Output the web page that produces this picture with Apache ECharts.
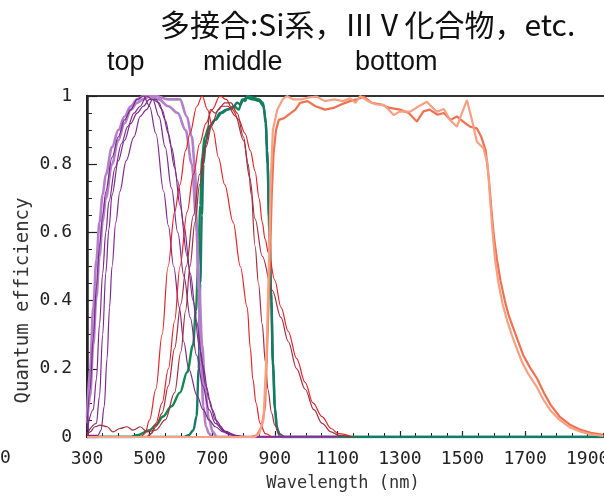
<!DOCTYPE html>
<html><head><meta charset="utf-8">
<script src="https://cdn.jsdelivr.net/npm/echarts@6/dist/echarts.min.js"></script>
<style>html,body{margin:0;padding:0;background:#fff}#c{width:604px;height:496px}</style>
</head><body><div id="c"></div>
<script>
// ---- data: [wavelength nm, quantum efficiency] ----
const xTicks = [300, 500, 700, 900, 1100, 1300, 1500, 1700, 1900];
const yTicks = [0, 0.2, 0.4, 0.6, 0.8, 1];
const groupLabels = ['top', 'middle', 'bottom'];

// top cells (purple)
const top1 = [[300,0.06],[310,0.2],[320,0.38],[330,0.52],[340,0.63],[350,0.71],[360,0.77],[380,0.85],[400,0.9],[420,0.94],[440,0.97],[460,0.99],[480,1.0],[520,1.0],[560,0.99],[597,0.99],[619,0.94],[635,0.88],[645,0.79],[651,0.6],[656,0.43],[664,0.22],[672,0.09],[680,0.03],[690,0.01],[700,0],[1100,0]];
const top2 = [[300,0.04],[310,0.12],[320,0.27],[330,0.41],[340,0.53],[350,0.63],[360,0.7],[380,0.8],[400,0.87],[420,0.92],[440,0.96],[460,0.98],[480,0.99],[500,1.0],[530,0.99],[560,0.97],[590,0.95],[615,0.9],[635,0.8],[648,0.65],[658,0.45],[668,0.27],[678,0.13],[690,0.05],[702,0.015],[715,0],[1100,0]];
const top3 = [[300,0.03],[310,0.14],[320,0.29],[330,0.44],[340,0.56],[350,0.65],[360,0.72],[380,0.82],[400,0.88],[420,0.93],[440,0.96],[460,0.99],[480,1.0],[500,0.97],[520,0.89],[545,0.72],[560,0.62],[577,0.5],[595,0.38],[609,0.28],[625,0.2],[652,0.12],[671,0.08],[690,0.05],[710,0.03],[735,0.015],[760,0.006],[790,0],[1100,0]];
const top4 = [[300,0.02],[320,0.08],[330,0.17],[340,0.33],[350,0.48],[360,0.6],[370,0.69],[390,0.79],[410,0.86],[430,0.91],[450,0.95],[470,0.97],[490,1.0],[510,0.99],[530,0.94],[550,0.85],[570,0.73],[590,0.6],[610,0.47],[630,0.35],[650,0.24],[670,0.15],[690,0.08],[710,0.04],[740,0.015],[780,0.003],[800,0],[1100,0]];
const top5 = [[300,0.01],[330,0.04],[340,0.12],[350,0.3],[360,0.48],[370,0.61],[380,0.71],[400,0.81],[420,0.87],[440,0.92],[460,0.95],[480,0.97],[500,0.99],[520,0.99],[540,0.96],[560,0.89],[580,0.79],[597,0.68],[620,0.53],[639,0.4],[660,0.26],[680,0.15],[700,0.08],[720,0.035],[750,0.01],[790,0],[1100,0]];
const top6 = [[300,0.005],[335,0.005],[345,0.02],[355,0.09],[364,0.23],[372,0.38],[380,0.5],[392,0.63],[405,0.72],[425,0.81],[450,0.88],[470,0.94],[490,0.96],[510,0.99],[530,0.98],[550,0.93],[570,0.85],[590,0.75],[610,0.62],[630,0.48],[650,0.34],[670,0.21],[690,0.11],[710,0.05],[740,0.017],[780,0.004],[810,0],[1100,0]];

// middle cells (red)
const mid1 = [[300,0],[470,0],[485,0.01],[500,0.05],[520,0.14],[540,0.3],[559,0.5],[580,0.66],[597,0.74],[615,0.84],[629,0.89],[651,0.97],[668,1.0],[685,0.96],[703,0.9],[720,0.82],[740,0.74],[767,0.63],[790,0.5],[812,0.38],[822,0.26],[830,0.17],[840,0.1],[853,0.04],[870,0.01],[890,0]];
const mid2 = [[300,0],[490,0],[505,0.01],[520,0.04],[540,0.1],[560,0.2],[580,0.34],[597,0.5],[620,0.66],[640,0.77],[660,0.86],[680,0.92],[700,0.96],[725,1.0],[745,0.99],[765,0.96],[785,0.93],[805,0.89],[822,0.84],[837,0.78],[850,0.7],[860,0.63],[869,0.58],[880,0.54],[900,0.46],[920,0.38],[943,0.31],[970,0.23],[997,0.16],[1022,0.1],[1051,0.06],[1080,0.025],[1103,0.01],[1150,0]];
const mid3 = [[300,0],[490,0],[505,0.01],[520,0.03],[540,0.07],[560,0.15],[580,0.26],[600,0.39],[617,0.5],[640,0.65],[660,0.77],[680,0.86],[694,0.96],[710,0.95],[730,0.97],[750,0.97],[775,0.94],[800,0.87],[820,0.76],[837,0.64],[860,0.53],[892,0.43],[920,0.35],[943,0.28],[970,0.2],[997,0.14],[1025,0.08],[1051,0.04],[1080,0.015],[1103,0.005],[1150,0]];
const mid4 = [[300,0.005],[310,0.015],[325,0.03],[342,0.035],[364,0.03],[383,0.015],[405,0.025],[428,0.03],[447,0.02],[470,0.03],[492,0.015],[520,0.02],[550,0.05],[580,0.13],[600,0.25],[615,0.37],[629,0.5],[645,0.63],[660,0.74],[680,0.85],[700,0.92],[720,0.96],[740,0.98],[760,0.98],[780,0.95],[800,0.88],[815,0.8],[825,0.71],[837,0.56],[848,0.45],[860,0.33],[870,0.22],[878,0.14],[890,0.07],[900,0.035],[915,0.01],[930,0]];

// middle cells (green)
const grn1 = [[300,0],[440,0],[460,0.005],[500,0.02],[520,0.035],[543,0.06],[570,0.09],[597,0.13],[620,0.19],[639,0.27],[648,0.37],[655,0.5],[662,0.68],[668,0.82],[676,0.88],[690,0.91],[710,0.93],[730,0.95],[750,0.96],[770,0.97],[785,0.96],[796,0.99],[806,0.985],[812,1.0],[830,0.995],[850,0.99],[862,0.98],[870,0.94],[876,0.84],[882,0.64],[888,0.43],[894,0.22],[900,0.09],[906,0.03],[915,0.005],[930,0],[1950,0]];
const grn2 = [[300,0],[610,0],[625,0.005],[640,0.02],[650,0.06],[657,0.2],[662,0.45],[667,0.65],[672,0.8],[680,0.87],[693,0.91],[710,0.93],[725,0.95],[745,0.96],[765,0.965],[780,0.98],[790,0.975],[800,0.99],[812,0.995],[830,0.99],[850,0.985],[864,0.97],[871,0.92],[877,0.8],[883,0.6],[889,0.4],[895,0.2],[901,0.08],[908,0.02],[920,0],[1950,0]];

// bottom cells (orange)
const bot1 = [[300,0],[825,0],[843,0.005],[858,0.03],[869,0.09],[877,0.3],[885,0.53],[890,0.7],[896,0.83],[904,0.9],[913,0.93],[930,0.935],[951,0.95],[966,0.96],[981,0.98],[1005,0.985],[1030,0.97],[1060,0.96],[1088,0.965],[1112,0.975],[1140,0.985],[1162,0.99],[1184,0.998],[1210,0.98],[1240,0.975],[1268,0.965],[1300,0.96],[1328,0.95],[1354,0.925],[1375,0.955],[1395,0.96],[1420,0.945],[1440,0.95],[1462,0.93],[1482,0.94],[1502,0.925],[1524,0.91],[1546,0.905],[1560,0.88],[1574,0.84],[1584,0.76],[1592,0.67],[1600,0.59],[1610,0.52],[1621,0.46],[1635,0.4],[1648,0.355],[1662,0.32],[1676,0.285],[1694,0.24],[1715,0.205],[1739,0.17],[1760,0.13],[1781,0.095],[1810,0.06],[1845,0.035],[1880,0.02],[1910,0.012],[1950,0.006]];
const bot2 = [[300,0],[835,0],[850,0.01],[864,0.05],[874,0.25],[881,0.5],[887,0.75],[894,0.9],[908,0.96],[925,0.99],[939,1.0],[958,0.99],[985,0.99],[1005,0.995],[1035,0.998],[1060,0.985],[1090,0.99],[1118,0.985],[1141,0.993],[1158,0.98],[1173,1.0],[1198,0.985],[1225,0.975],[1248,0.974],[1264,0.96],[1280,0.944],[1300,0.955],[1333,0.954],[1360,0.97],[1386,0.983],[1402,0.968],[1418,0.954],[1440,0.962],[1460,0.93],[1482,0.91],[1498,0.95],[1514,0.988],[1530,0.93],[1546,0.866],[1567,0.847],[1580,0.8],[1588,0.7],[1596,0.6],[1604,0.52],[1615,0.45],[1628,0.39],[1643,0.34],[1657,0.3],[1671,0.265],[1690,0.22],[1710,0.185],[1735,0.15],[1758,0.11],[1781,0.078],[1810,0.05],[1845,0.027],[1880,0.015],[1910,0.008],[1950,0.003]];

// ---- chart ----
const chart = echarts.init(document.getElementById('c'), null, {renderer: 'canvas'});
const monoFont = "'DejaVu Sans Mono', monospace";

function line(name, data, color, width, smooth, z) {
  return {
    name: name, type: 'line', data: data, showSymbol: false, symbol: 'none',
    smooth: smooth ? 0.35 : false, smoothMonotone: 'x', z: z,
    lineStyle: {color: color, width: width}, itemStyle: {color: color},
    silent: true, animation: false
  };
}
const cDark = '#7d2a8b', cLight = '#b37fc9', cRed = '#e3262b', cMaroon = '#a02f3f';
const series = [
  line('top1', top1, cLight, 2.6, true, 3),
  line('top2', top2, cLight, 2.6, true, 3),
  line('top3', top3, cDark, 1.2, true, 4),
  line('top4', top4, cDark, 1.2, true, 4),
  line('top5', top5, cDark, 1.2, true, 4),
  line('top6', top6, cDark, 1.2, true, 4),
  line('mid1', mid1, cRed, 1.2, true, 5),
  line('mid2', mid2, cRed, 1.2, true, 5),
  line('mid3', mid3, cMaroon, 1.2, true, 5),
  line('mid4', mid4, cMaroon, 1.2, true, 5),
  line('grn1', grn1, '#0c8a50', 2.4, true, 2),
  line('grn2', grn2, '#167a68', 2.4, true, 2),
  line('bot1', bot1, '#f07150', 2.2, false, 6),
  line('bot2', bot2, '#f8a083', 2.2, false, 6)
];

chart.setOption({
  animation: false,
  backgroundColor: '#fff',
  title: {
    text: '多接合:Si系，ⅢⅤ化合物，etc.',
    left: 155, top: 5,
    textStyle: {fontFamily: "'Noto Sans CJK JP'", fontSize: 30, fontWeight: 'normal', color: '#111'}
  },
  grid: {left: 87, top: 96, width: 532, bottom: 59, outerBoundsMode: 'none', containLabel: false,
    show: true, borderColor: '#333', borderWidth: 2, backgroundColor: 'transparent'},
  xAxis: {
    type: 'value', min: 300, max: 2000, interval: 200,
    name: 'Wavelength (nm)', nameLocation: 'middle', nameGap: 38,
    nameTextStyle: {fontFamily: monoFont, fontSize: 17, color: '#333', padding: [0, 20, 0, 0]},
    axisLine: {show: true, onZero: false, lineStyle: {color: '#222', width: 2}},
    axisTick: {show: true, inside: true, length: 6, lineStyle: {color: '#222', width: 1.2}},
    minorTick: {show: true, splitNumber: 4, length: 4, lineStyle: {color: '#222', width: 1}},
    axisLabel: {fontFamily: monoFont, fontSize: 18, color: '#222', margin: 13, showMaxLabel: false,
      formatter: v => xTicks.indexOf(v) >= 0 ? String(v) : ''},
    splitLine: {show: false}
  },
  yAxis: {
    type: 'value', min: 0, max: 1, interval: 0.2,
    name: 'Quantum efficiency', nameLocation: 'middle', nameGap: 54, nameRotate: 90, nameMoveOverlap: false,
    nameTextStyle: {fontFamily: monoFont, fontSize: 19, color: '#333', padding: [0, 68, 0, 0]},
    axisLine: {show: true, lineStyle: {color: '#222', width: 2.5}},
    axisTick: {show: true, inside: true, length: 10, lineStyle: {color: '#222', width: 1.2}},
    minorTick: {show: true, splitNumber: 4, length: 5, lineStyle: {color: '#222', width: 1}},
    axisLabel: {fontFamily: monoFont, fontSize: 18, color: '#222', margin: 15,
      formatter: v => { const t = yTicks.find(k => Math.abs(k - v) < 1e-9); return t === undefined ? '' : (t === 0 || t === 1 ? String(t) : t.toFixed(1)); }},
    splitLine: {show: false}
  },
  graphic: [
    {type: 'text', left: 107, top: 49, style: {text: groupLabels[0], font: "27px 'Liberation Sans'", fill: '#111'}},
    {type: 'text', left: 203, top: 49, style: {text: groupLabels[1], font: "27px 'Liberation Sans'", fill: '#111'}},
    {type: 'text', left: 355, top: 49, style: {text: groupLabels[2], font: "27px 'Liberation Sans'", fill: '#111'}},
    {type: 'text', left: 0, top: 449, style: {text: '0', font: "18px 'DejaVu Sans Mono'", fill: '#222'}}
  ],
  series: series
});
</script>
</body></html>
